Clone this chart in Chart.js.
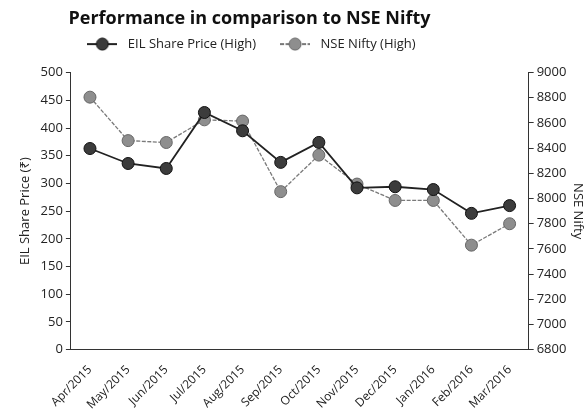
<!DOCTYPE html>
<html>
<head>
<meta charset="utf-8">
<script src="https://cdn.jsdelivr.net/npm/chart.js@4.4.1/dist/chart.umd.min.js"></script>
<style>
  html, body { margin: 0; padding: 0; background: #fff; }
  #wrap { width: 587px; height: 417px; }
</style>
</head>
<body>
<div id="wrap"><canvas id="chart" width="587" height="417"></canvas></div>
<script>
const months = ["Apr/2015", "May/2015", "Jun/2015", "Jul/2015", "Aug/2015", "Sep/2015",
  "Oct/2015", "Nov/2015", "Dec/2015", "Jan/2016", "Feb/2016", "Mar/2016"];
const eilHigh = [363, 336, 327, 428, 395, 338, 374, 292, 294, 289, 246, 260];
const niftyHigh = [8805, 8460, 8445, 8625, 8615, 8055, 8345, 8115, 7985, 7985, 7630, 7800];

Chart.defaults.font.family = "'Open Sans', 'Noto Sans', sans-serif";
Chart.defaults.color = "#222";

// little line + dot image for the legend swatches
function legendMarker(fill, stroke, line, dash) {
  const c = document.createElement("canvas");
  c.width = 30;
  c.height = 14;
  const g = c.getContext("2d");
  g.strokeStyle = line;
  g.lineWidth = 2;
  g.setLineDash(dash);
  g.beginPath();
  g.moveTo(0, 7);
  g.lineTo(30, 7);
  g.stroke();
  g.setLineDash([]);
  g.beginPath();
  g.arc(15, 7, 6, 0, 2 * Math.PI);
  g.fillStyle = fill;
  g.fill();
  g.strokeStyle = stroke;
  g.lineWidth = 1;
  g.stroke();
  return c;
}
const markers = [
  legendMarker("#3c3c3c", "#111", "#222", []),
  legendMarker("#8e8e8e", "#666", "#777", [4, 1.5])
];

// title and legend sit left of the canvas centre in the original
const shiftHeader = {
  id: "shiftHeader",
  afterLayout(chart) {
    const t = chart.titleBlock, l = chart.legend;
    if (t) { t.left -= 50; t.right -= 50; t.top += 4; t.bottom += 4; }
    if (l) { l.left -= 50; l.right -= 50; l.top -= 12; l.bottom -= 12; }
  }
};

const axisTick = {
  display: true,
  drawOnChartArea: false,
  drawTicks: true,
  tickLength: 5,
  color: "#333"
};

new Chart(document.getElementById("chart"), {
  type: "line",
  data: {
    labels: months,
    datasets: [
      {
        label: "EIL Share Price (High)",
        data: eilHigh,
        yAxisID: "y",
        borderColor: "#222",
        borderWidth: 1.8,
        pointRadius: 6,
        pointHoverRadius: 6,
        pointBackgroundColor: "#3c3c3c",
        pointBorderColor: "#111",
        pointBorderWidth: 1,
        tension: 0
      },
      {
        label: "NSE Nifty (High)",
        data: niftyHigh,
        yAxisID: "y1",
        borderColor: "#7a7a7a",
        borderWidth: 1.3,
        borderDash: [4, 1.5],
        pointRadius: 6,
        pointHoverRadius: 6,
        pointBackgroundColor: "#8e8e8e",
        pointBorderColor: "#666",
        pointBorderWidth: 1,
        tension: 0
      }
    ]
  },
  plugins: [shiftHeader],
  options: {
    responsive: false,
    animation: false,
    layout: { padding: { left: 12, right: 0, top: 0, bottom: 0 } },
    plugins: {
      title: {
        display: true,
        text: "Performance in comparison to NSE Nifty",
        color: "#111",
        font: { size: 18, weight: "bold" },
        padding: { top: 4, bottom: 4 }
      },
      legend: {
        display: true,
        labels: {
          usePointStyle: true,
          pointStyleWidth: 38,
          padding: 20,
          color: "#222",
          font: { size: 13 },
          generateLabels: function (chart) {
            const items = Chart.defaults.plugins.legend.labels.generateLabels(chart);
            items.forEach((it, i) => { it.pointStyle = markers[i]; });
            return items;
          }
        }
      },
      tooltip: { enabled: false }
    },
    scales: {
      x: {
        offset: true,
        grid: { display: false },
        border: { display: true, color: "#333", width: 1 },
        ticks: {
          autoSkip: false,
          maxRotation: 45,
          minRotation: 45,
          padding: 5,
          font: { size: 12 }
        }
      },
      y: {
        position: "left",
        min: 0,
        max: 500,
        ticks: { stepSize: 50, padding: 3, font: { size: 13 } },
        grid: axisTick,
        border: { display: true, color: "#333", width: 1 },
        title: { display: true, text: "EIL Share Price (₹)", font: { size: 13 }, padding: 5 }
      },
      y1: {
        position: "right",
        min: 6800,
        max: 9000,
        ticks: { stepSize: 200, padding: 3, font: { size: 13 }, callback: v => String(v) },
        grid: axisTick,
        border: { display: true, color: "#333", width: 1 },
        title: { display: true, text: "NSE Nifty", font: { size: 13 }, padding: 1 }
      }
    }
  }
});
</script>
</body>
</html>
